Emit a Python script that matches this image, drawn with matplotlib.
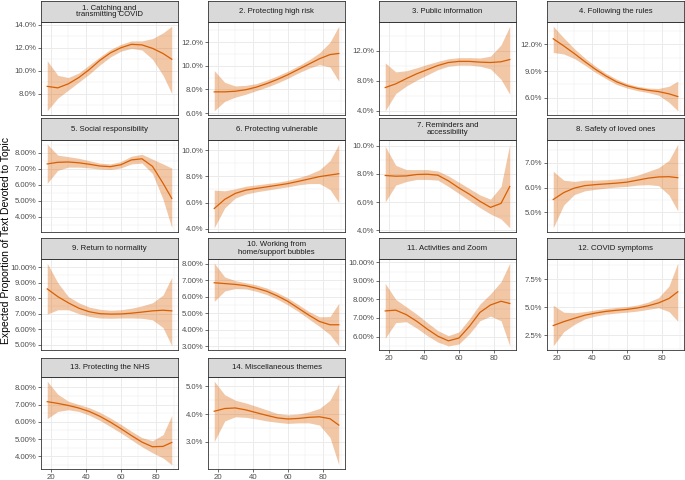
import matplotlib
matplotlib.use("Agg")
import matplotlib.pyplot as plt
import numpy as np

plt.rcParams["font.family"] = ["Liberation Sans", "DejaVu Sans"]

# age grid the smooths were read at
AGE = [18, 24, 30, 36, 42, 48, 54, 60, 66, 72, 78, 84, 89]

TOPICS = [
    "1. Catching and\ntransmitting COVID",
    "2. Protecting high risk",
    "3. Public information",
    "4. Following the rules",
    "5. Social responsibility",
    "6. Protecting vulnerable",
    "7. Reminders and\naccessibility",
    "8. Safety of loved ones",
    "9. Return to normality",
    "10. Working from\nhome/support bubbles",
    "11. Activities and Zoom",
    "12. COVID symptoms",
    "13. Protecting the NHS",
    "14. Miscellaneous themes",
]

# expected proportion (%), one row per topic
MEAN = [
    [8.63, 8.5, 8.85, 9.4, 10.1, 10.9, 11.55, 12.0, 12.3, 12.25, 11.95, 11.5, 11.0],
    [7.8, 7.8, 7.85, 7.98, 8.2, 8.5, 8.85, 9.25, 9.7, 10.15, 10.6, 10.95, 11.05],
    [7.1, 7.6, 8.3, 8.95, 9.5, 10.05, 10.45, 10.6, 10.6, 10.5, 10.45, 10.55, 10.85],
    [12.6, 11.8, 10.95, 10.05, 9.2, 8.45, 7.8, 7.35, 7.05, 6.85, 6.7, 6.45, 6.15],
    [7.3, 7.4, 7.42, 7.37, 7.28, 7.17, 7.13, 7.25, 7.55, 7.62, 7.15, 6.1, 5.15],
    [5.55, 6.25, 6.7, 6.95, 7.08, 7.2, 7.32, 7.45, 7.62, 7.8, 7.98, 8.1, 8.2],
    [7.88, 7.83, 7.85, 7.95, 7.97, 7.9, 7.5, 7.0, 6.55, 6.05, 5.62, 5.9, 7.1],
    [5.52, 5.8, 5.98, 6.08, 6.12, 6.15, 6.18, 6.22, 6.3, 6.38, 6.43, 6.44, 6.4],
    [8.6, 8.1, 7.7, 7.35, 7.12, 7.0, 6.97, 6.98, 7.03, 7.1, 7.18, 7.22, 7.18],
    [6.85, 6.8, 6.75, 6.67, 6.52, 6.33, 6.05, 5.72, 5.3, 4.88, 4.5, 4.3, 4.3],
    [7.38, 7.42, 7.18, 6.82, 6.4, 6.02, 5.77, 5.92, 6.55, 7.3, 7.7, 7.9, 7.78],
    [3.35, 3.7, 4.0, 4.28, 4.47, 4.62, 4.72, 4.8, 4.93, 5.12, 5.38, 5.78, 6.38],
    [7.17, 7.07, 6.95, 6.8, 6.6, 6.32, 5.98, 5.6, 5.2, 4.82, 4.55, 4.57, 4.8],
    [4.1, 4.2, 4.22, 4.15, 4.05, 3.95, 3.86, 3.82, 3.84, 3.88, 3.9, 3.83, 3.6],
]

LOWER = [
    [6.5, 7.6, 8.3, 9.0, 9.7, 10.5, 11.2, 11.7, 11.95, 11.8, 11.0, 9.6, 8.0],
    [6.2, 7.0, 7.35, 7.6, 7.9, 8.2, 8.55, 8.95, 9.4, 9.8, 10.1, 9.9, 8.7],
    [4.0, 6.3, 7.3, 8.1, 8.8, 9.5, 9.95, 10.1, 10.1, 9.95, 9.6, 8.2, 6.2],
    [11.07, 10.9, 10.4, 9.65, 8.85, 8.15, 7.5, 7.1, 6.8, 6.6, 6.3, 5.5, 4.56],
    [6.09, 6.9, 7.1, 7.1, 7.05, 6.98, 6.95, 7.05, 7.3, 7.35, 6.7, 5.1, 3.32],
    [4.08, 5.6, 6.35, 6.65, 6.82, 6.95, 7.08, 7.2, 7.35, 7.45, 7.45, 7.0, 6.0],
    [6.0, 7.2, 7.45, 7.6, 7.6, 7.55, 7.1, 6.6, 6.1, 5.6, 5.15, 4.8, 4.17],
    [4.38, 5.3, 5.72, 5.87, 5.93, 5.98, 6.02, 6.05, 6.1, 6.12, 6.08, 5.7, 5.06],
    [6.97, 7.25, 7.25, 7.0, 6.82, 6.72, 6.7, 6.72, 6.72, 6.7, 6.6, 6.1, 4.92],
    [5.72, 6.35, 6.5, 6.48, 6.33, 6.13, 5.85, 5.5, 5.1, 4.65, 4.2, 3.7, 3.02],
    [5.91, 6.75, 6.8, 6.45, 6.05, 5.7, 5.5, 5.6, 6.15, 6.85, 7.1, 6.85, 5.5],
    [1.53, 2.8, 3.45, 3.95, 4.2, 4.37, 4.47, 4.55, 4.65, 4.8, 4.95, 4.6, 3.74],
    [6.18, 6.6, 6.7, 6.6, 6.38, 6.08, 5.72, 5.35, 4.95, 4.55, 4.2, 3.9, 3.5],
    [3.0, 3.75, 3.9, 3.88, 3.82, 3.75, 3.7, 3.66, 3.68, 3.68, 3.6, 3.15, 2.16],
]

UPPER = [
    [10.87, 9.6, 9.4, 9.8, 10.5, 11.2, 11.85, 12.3, 12.6, 12.6, 12.8, 13.3, 13.88],
    [9.6, 8.6, 8.3, 8.35, 8.5, 8.8, 9.15, 9.55, 10.0, 10.5, 11.1, 12.0, 13.35],
    [10.4, 9.2, 9.35, 9.75, 10.2, 10.6, 10.95, 11.1, 11.1, 11.05, 11.3, 12.8, 15.3],
    [14.0, 12.7, 11.5, 10.45, 9.55, 8.75, 8.1, 7.6, 7.3, 7.1, 7.05, 7.3, 7.87],
    [8.53, 7.85, 7.75, 7.65, 7.5, 7.35, 7.3, 7.45, 7.78, 7.9, 7.6, 7.3, 7.04],
    [6.95, 6.9, 7.05, 7.25, 7.35, 7.45, 7.55, 7.7, 7.9, 8.15, 8.5, 9.2, 10.45],
    [9.95, 8.6, 8.3, 8.3, 8.3, 8.2, 7.85, 7.4, 6.95, 6.5, 6.2, 7.1, 10.1],
    [6.66, 6.3, 6.25, 6.3, 6.3, 6.32, 6.35, 6.4, 6.5, 6.65, 6.8, 7.1, 7.75],
    [10.26, 9.0, 8.1, 7.7, 7.42, 7.28, 7.22, 7.25, 7.35, 7.5, 7.7, 8.2, 9.35],
    [8.04, 7.2, 6.98, 6.85, 6.72, 6.52, 6.25, 5.92, 5.52, 5.1, 4.78, 4.8, 5.6],
    [8.86, 8.0, 7.6, 7.2, 6.75, 6.32, 6.05, 6.25, 6.95, 7.75, 8.3, 8.95, 9.95],
    [5.17, 4.55, 4.5, 4.6, 4.75, 4.88, 4.98, 5.05, 5.2, 5.45, 5.85, 6.9, 8.95],
    [8.36, 7.6, 7.2, 7.0, 6.82, 6.55, 6.22, 5.85, 5.45, 5.08, 4.9, 5.25, 6.37],
    [5.19, 4.7, 4.5, 4.4, 4.28, 4.15, 4.02, 3.97, 4.0, 4.08, 4.2, 4.5, 5.1],
]

Y_TICKS = [
    [8, 10, 12, 14],
    [6, 8, 10, 12],
    [4, 8, 12, 16],
    [6, 9, 12],
    [3, 4, 5, 6, 7, 8],
    [4, 6, 8, 10],
    [4, 6, 8, 10],
    [5, 6, 7],
    [5, 6, 7, 8, 9, 10],
    [3, 4, 5, 6, 7, 8],
    [6, 7, 8, 9, 10],
    [2.5, 5.0, 7.5],
    [4, 5, 6, 7, 8],
    [2, 3, 4, 5],
]
Y_DECIMALS = [1, 1, 1, 1, 2, 1, 1, 1, 2, 2, 2, 1, 2, 1]
X_TICKS = [20, 40, 60, 80]

LINE_COLOR = "#D95F02"
GRID_COLOR = "#EBEBEB"
EDGE_COLOR = "#333333"

W, H = 685, 480
COL_LEFT = [41, 208, 379, 547]
COL_WIDTH = 137
# strip top, panel top, panel bottom (pixels from the top)
ROWS = [(1, 22, 115), (118, 140, 232), (238, 259, 350), (358, 377, 469)]


def frac(left, top, width, height):
    return [left / W, 1 - (top + height) / H, width / W, height / H]


fig = plt.figure(figsize=(W / 100, H / 100), dpi=100)

for i, topic in enumerate(TOPICS):
    r, c = divmod(i, 4)
    s_top, p_top, p_bot = ROWS[r]
    left = COL_LEFT[c]

    ax = fig.add_axes(frac(left, p_top, COL_WIDTH, p_bot - p_top))
    ax.fill_between(AGE, LOWER[i], UPPER[i], color=LINE_COLOR, alpha=0.35,
                    linewidth=0)
    ax.plot(AGE, MEAN[i], color=LINE_COLOR, linewidth=0.9)
    ax.margins(x=0.05, y=0.05)

    ylo, yhi = ax.get_ylim()
    ticks = Y_TICKS[i]
    step = ticks[1] - ticks[0]
    minor = [t - step / 2 for t in ticks] + [ticks[-1] + step / 2]
    minor = [m for m in minor if ylo <= m <= yhi]
    ax.set_yticks(ticks)
    ax.set_yticks(minor, minor=True)
    ax.set_yticklabels([f"{t:.{Y_DECIMALS[i]}f}%" for t in ticks])
    ax.set_ylim(ylo, yhi)

    ax.set_xticks(X_TICKS)
    ax.set_xticks([10, 30, 50, 70, 90], minor=True)
    ax.set_xlim(14.45, 92.55)

    ax.grid(which="major", color=GRID_COLOR, linewidth=0.7)
    ax.grid(which="minor", color=GRID_COLOR, linewidth=0.35)
    ax.set_axisbelow(True)
    for sp in ax.spines.values():
        sp.set_color(EDGE_COLOR)
        sp.set_linewidth(0.6)

    show_x = (r == 3) or (r == 2 and c >= 2)
    ax.tick_params(which="major", length=2, width=0.5, color=EDGE_COLOR,
                   labelsize=5.6, labelcolor="#4D4D4D", pad=1.5)
    ax.tick_params(which="minor", length=0)
    ax.tick_params(axis="x", labelbottom=show_x, length=2 if show_x else 0)

    sax = fig.add_axes(frac(left, s_top, COL_WIDTH, p_top - s_top))
    sax.set_facecolor("#D9D9D9")
    sax.set_xticks([])
    sax.set_yticks([])
    for sp in sax.spines.values():
        sp.set_color(EDGE_COLOR)
        sp.set_linewidth(0.6)
    sax.text(0.5, 0.5, topic, ha="center", va="center", fontsize=5.6,
             color="#1A1A1A", linespacing=1.0, transform=sax.transAxes)

fig.text(6 / W, 0.5, "Expected Proportion of Text Devoted to Topic",
         rotation=90, ha="center", va="center", fontsize=7.5, color="#000000")

fig.savefig("out.png", dpi=100)
plt.close(fig)
